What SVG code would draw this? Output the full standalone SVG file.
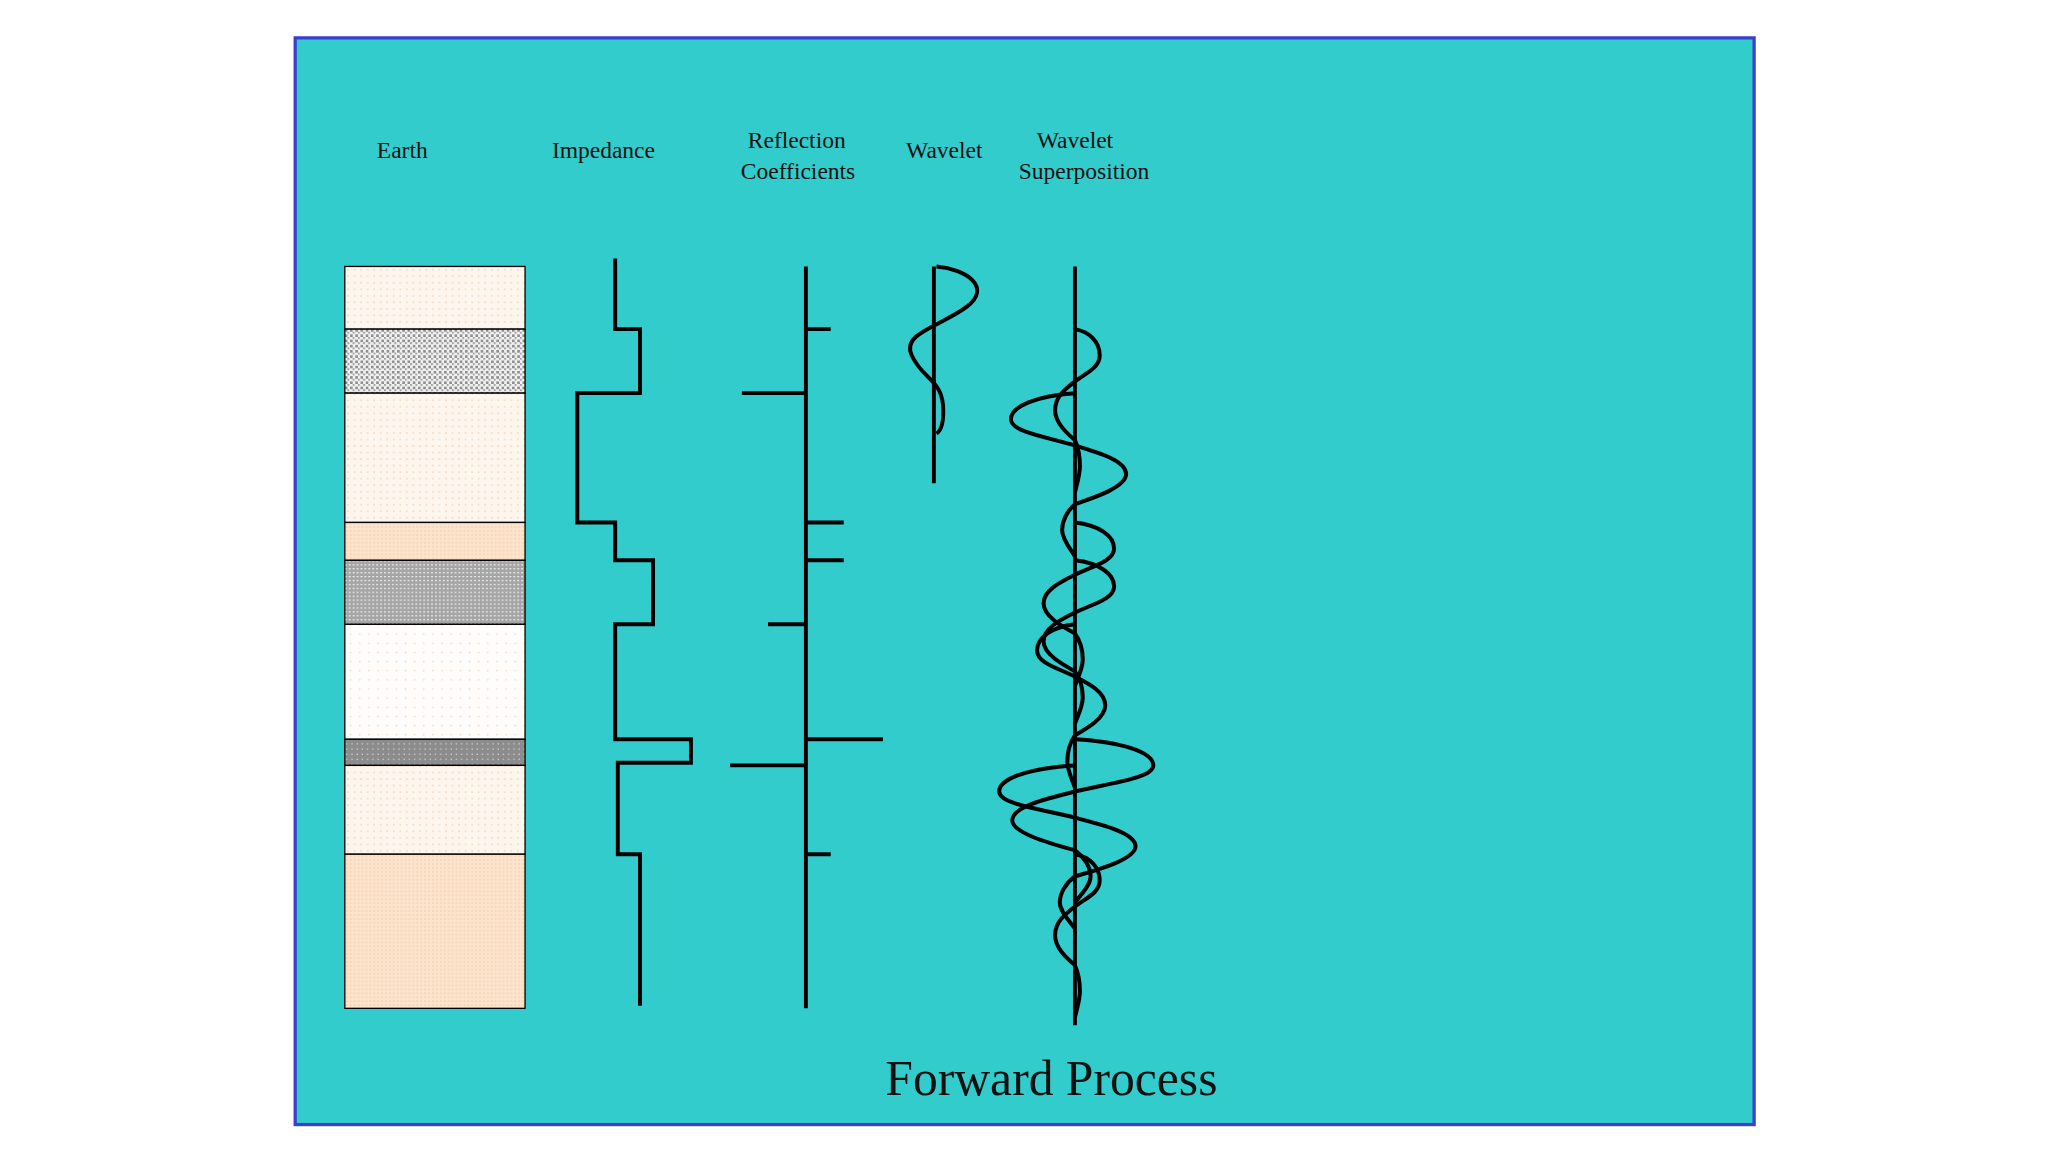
<svg xmlns="http://www.w3.org/2000/svg" xmlns:xlink="http://www.w3.org/1999/xlink" width="2048" height="1152" viewBox="0 0 2048 1152">
<style>
.lbl{font-family:"Liberation Serif",serif;font-size:18px;fill:#111;text-anchor:middle}
.ln{fill:none;stroke:#000;stroke-width:3;stroke-linejoin:miter}
.lay{stroke:#000;stroke-width:1}
.wv{fill:none;stroke:#000;stroke-width:4;vector-effect:non-scaling-stroke}
</style>
<defs>
<pattern id="pc" width="5" height="5" patternUnits="userSpaceOnUse"><rect width="5" height="5" fill="#fdf6ef"/><rect x="1" y="1" width="1" height="1" fill="#f3c9a0"/></pattern>
<pattern id="pw" width="7" height="7" patternUnits="userSpaceOnUse"><rect width="7" height="7" fill="#fffdfb"/><rect x="2" y="2" width="1" height="1" fill="#f0d0b0"/></pattern>
<pattern id="pp" width="3" height="3" patternUnits="userSpaceOnUse"><rect width="3" height="3" fill="#fbe3cc"/><rect x="1" y="1" width="1" height="1" fill="#f5c9a3"/></pattern>
<pattern id="g1" width="4" height="4" patternUnits="userSpaceOnUse"><rect width="4" height="4" fill="#f2f2f2"/><rect x="0" y="0" width="2" height="2" fill="#8f8f8f"/><rect x="2" y="2" width="1.5" height="1.5" fill="#a0a0a0"/></pattern>
<pattern id="g2" width="3" height="3" patternUnits="userSpaceOnUse"><rect width="3" height="3" fill="#a5a5a5"/><rect x="0" y="0" width="1.5" height="1" fill="#e8e8e8"/></pattern>
<pattern id="g3" width="4" height="4" patternUnits="userSpaceOnUse"><rect width="4" height="4" fill="#8c8c8c"/><rect x="1" y="1" width="1" height="1" fill="#d0d0d0"/></pattern>
<path id="w" class="wv" d="M0,0 C30,2 50,10 50,20 C50,30 20,34 0,40 C-20,46 -40,52 -40,62 C-40,72 -15,80 0,85 C6,90 10,98 10,105 C10,112 3,120 0,125"/>
</defs>
<g transform="scale(1.30612)">
<g id="frame"><rect x="226" y="29" width="1117" height="832" fill="#33cccc" stroke="#3a3fd0" stroke-width="2.5"/></g>
<g id="labels">
<text class="lbl" x="308" y="121">Earth</text>
<text class="lbl" x="462" y="121">Impedance</text>
<text class="lbl" x="610" y="113">Reflection</text>
<text class="lbl" x="611" y="137">Coefficients</text>
<text class="lbl" x="723" y="121">Wavelet</text>
<text class="lbl" x="823" y="113">Wavelet</text>
<text class="lbl" x="830" y="137">Superposition</text>
<text x="805" y="838" style="font-family:'Liberation Serif',serif;font-size:38px;fill:#111;text-anchor:middle">Forward Process</text>
</g>
<g id="earth">
<rect class="lay" x="264" y="204" width="138" height="48" fill="url(#pc)"/>
<rect class="lay" x="264" y="252" width="138" height="49" fill="url(#g1)"/>
<rect class="lay" x="264" y="301" width="138" height="99" fill="url(#pc)"/>
<rect class="lay" x="264" y="400" width="138" height="29" fill="url(#pp)"/>
<rect class="lay" x="264" y="429" width="138" height="49" fill="url(#g2)"/>
<rect class="lay" x="264" y="478" width="138" height="88" fill="url(#pw)"/>
<rect class="lay" x="264" y="566" width="138" height="20" fill="url(#g3)"/>
<rect class="lay" x="264" y="586" width="138" height="68" fill="url(#pc)"/>
<rect class="lay" x="264" y="654" width="138" height="118" fill="url(#pp)"/>
</g>
<g id="impedance"><path class="ln" d="M471,198 V252 H490 V301 H442 V400 H471 V429 H500 V478 H471 V566 H529 V584 H473 V654 H490 V770"/></g>
<g id="reflection">
<path class="ln" d="M617,204 V772 M617,252 H636 M568,301 H617 M617,400 H646 M617,429 H646 M588,478 H617 M617,566 H676 M559,586 H617 M617,654 H636"/>
</g>
<g id="wavelet">
<path class="ln" d="M715,204 V370"/>
<path class="ln" d="M717,204 C740,206 760,220 740,235 C720,250 690,255 698,272 C706,290 720,290 722,310 C723,325 720,330 717,332"/>
</g>
<g id="superposition">
<path class="ln" d="M823,204 V785"/>
<use xlink:href="#w" transform="translate(823,252) scale(0.38,1)"/>
<use xlink:href="#w" transform="translate(823,301) scale(-0.98,1)"/>
<use xlink:href="#w" transform="translate(823,400) scale(0.6,1)"/>
<use xlink:href="#w" transform="translate(823,429) scale(0.6,1)"/>
<use xlink:href="#w" transform="translate(823,478) scale(-0.58,1)"/>
<use xlink:href="#w" transform="translate(823,566) scale(1.2,1)"/>
<use xlink:href="#w" transform="translate(823,586) scale(-1.16,1)"/>
<use xlink:href="#w" transform="translate(823,654) scale(0.38,1)"/>
</g>
</g>
</svg>
